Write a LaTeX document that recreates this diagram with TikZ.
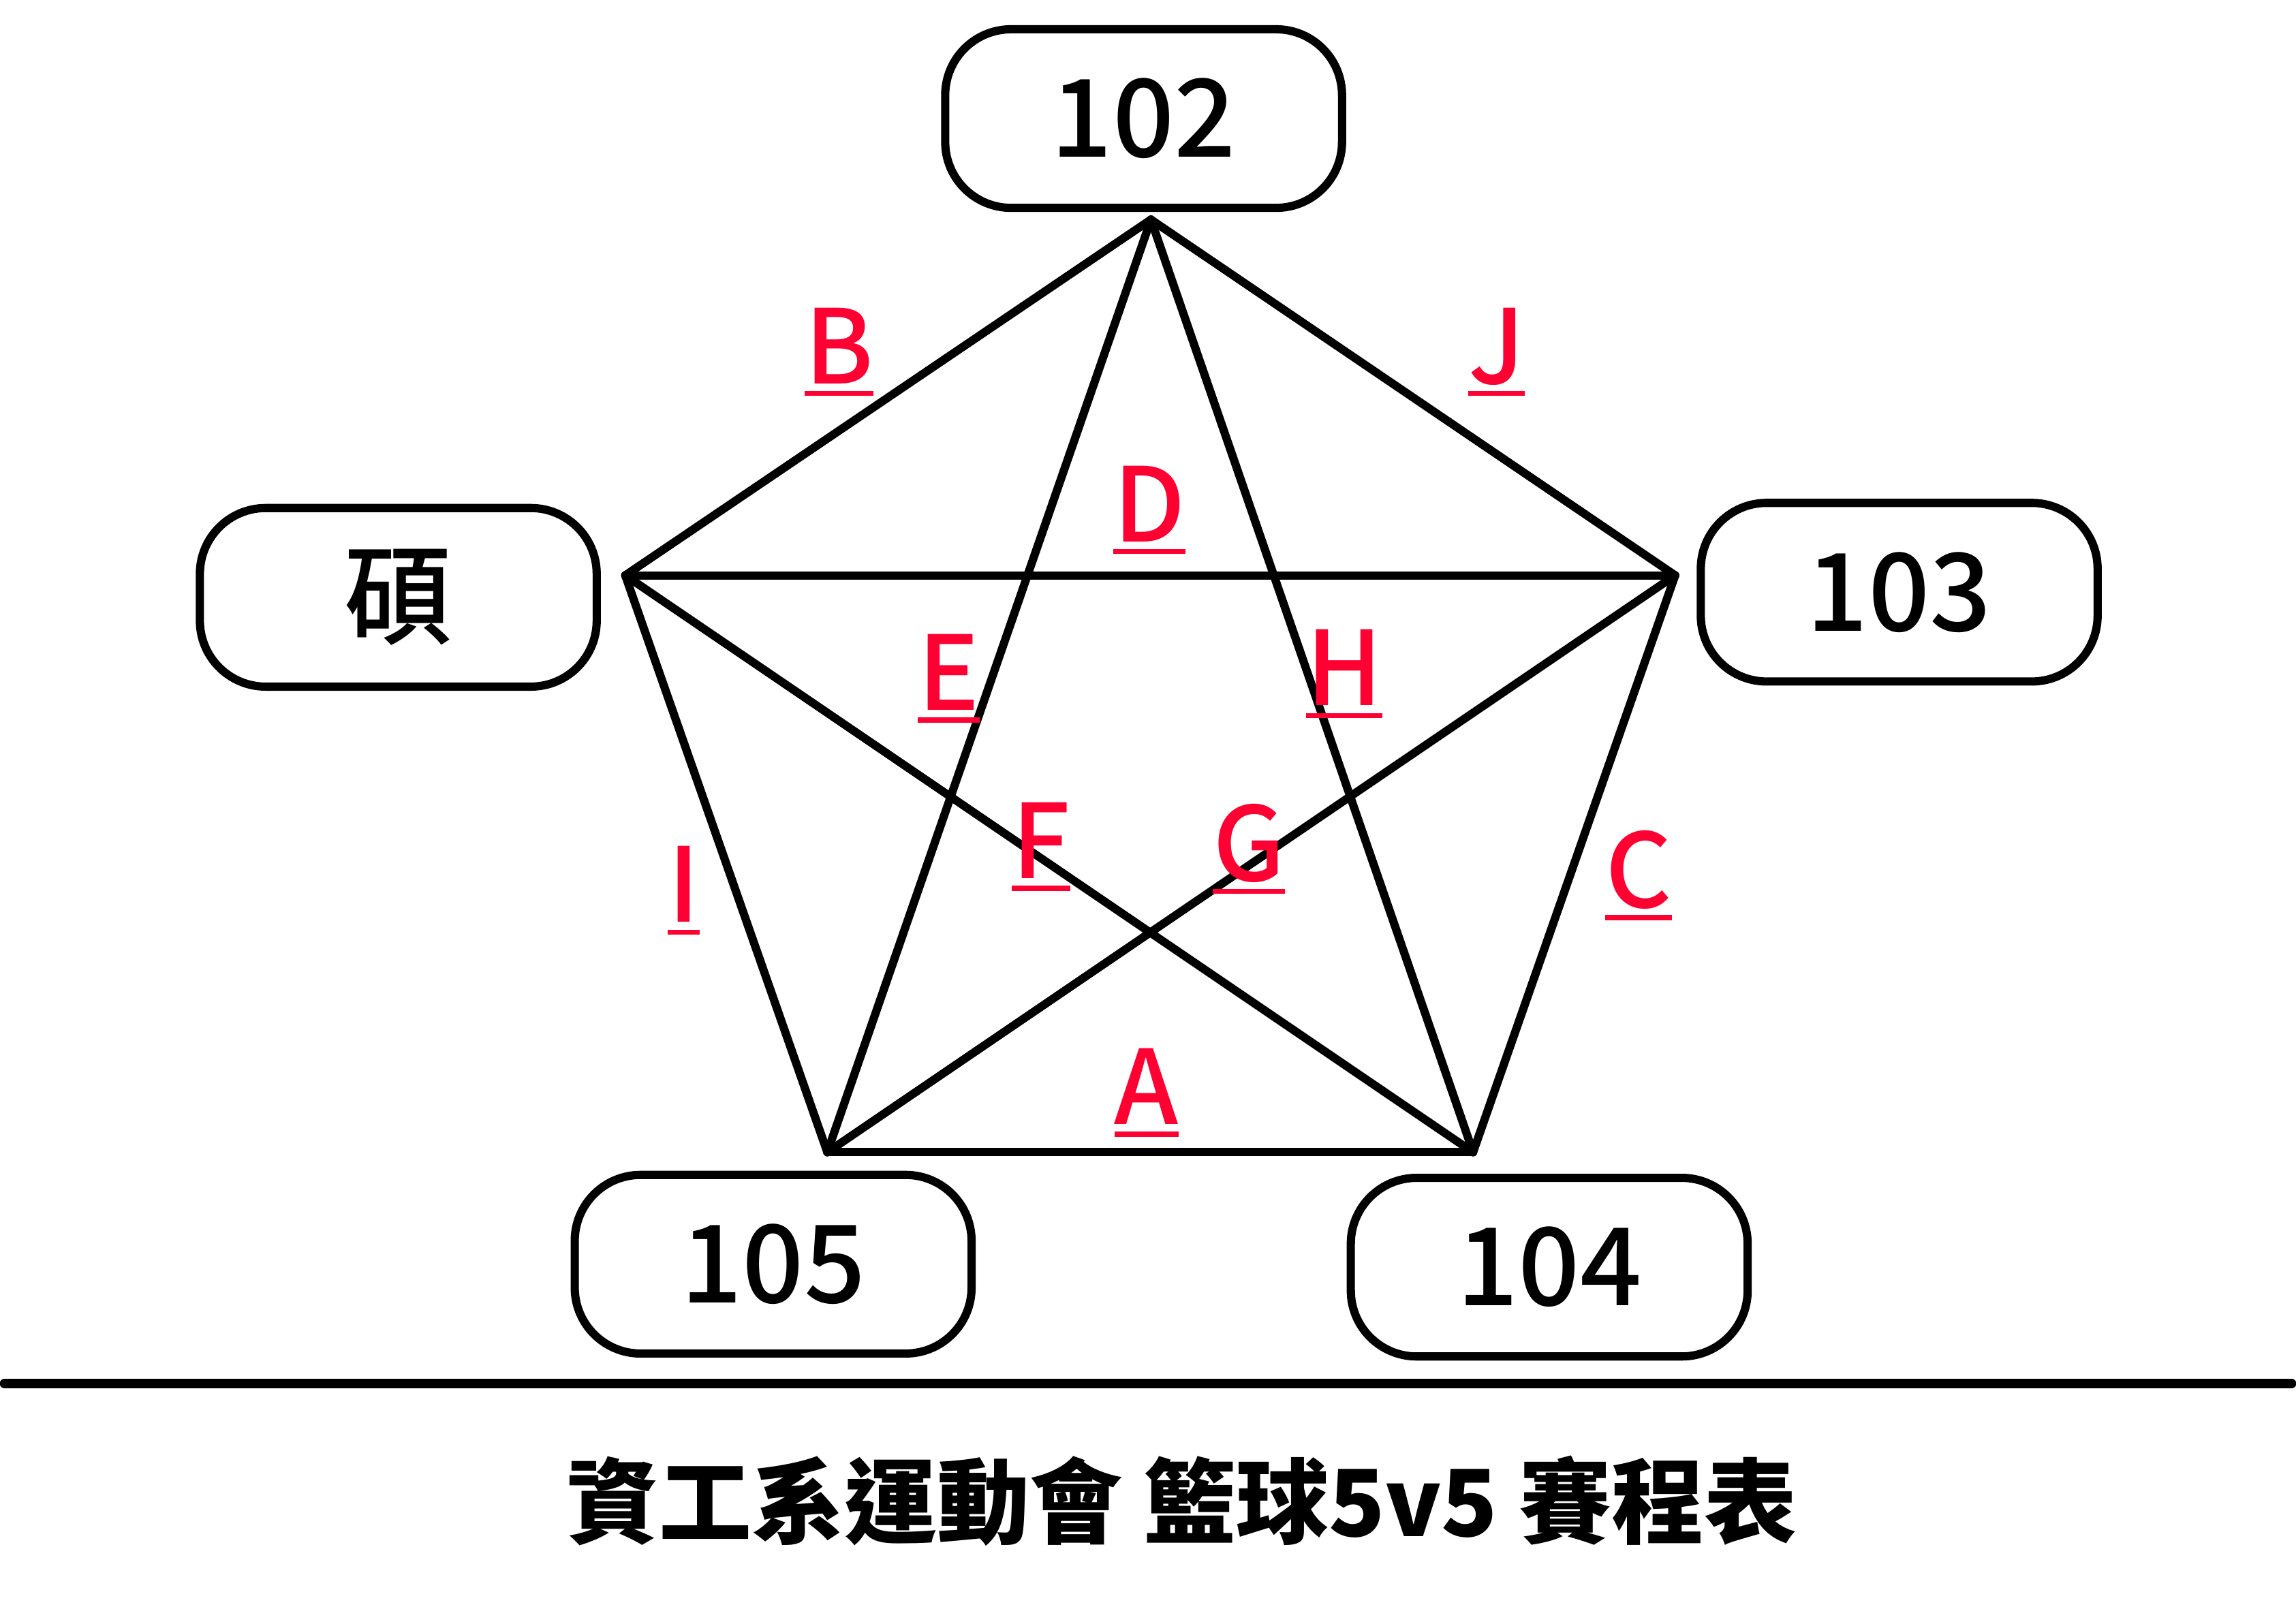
\documentclass[tikz,border=0pt]{standalone}
\usepackage{fontspec}
\setmainfont{Noto Sans CJK TC}
\newfontfamily\medfont{Noto Sans CJK TC Medium}
\usepackage{tikz}
\usetikzlibrary{positioning}
\definecolor{labred}{RGB}{255,0,51}
\newcommand{\ulbl}[1]{\setbox0\hbox{#1}\rlap{\rule[-0.085cm]{\wd0}{0.035cm}}\box0}

\begin{document}
\begin{tikzpicture}[
    room/.style={draw, rounded corners=4.5mm, line width=1.6pt, minimum width=2.71cm, minimum height=1.22cm, font=\medfont\fontsize{21}{24}\selectfont},
    game/.style={anchor=base, text=labred, inner sep=0pt, font=\medfont\fontsize{20}{24}\selectfont},
    el/.style={line width=1.6pt, line cap=round, line join=round}
  ]
    \useasboundingbox (0,0) rectangle (15.68,11.09);

    % rooms
    \node[room] (r102) at (7.81,10.28) {102};
    \node[room] (rms)  at (2.72,7.01)  {碩};
    \node[room] (r103) at (12.97,7.045) {103};
    \node[room] (r105) at (5.28,2.455) {105};
    \node[room] (r104) at (10.58,2.435) {104};

    % pentagon corners
    \coordinate (p102) at (7.86,9.59);
    \coordinate (pms)  at (4.27,7.16);
    \coordinate (p103) at (11.44,7.16);
    \coordinate (p105) at (5.65,3.22);
    \coordinate (p104) at (10.06,3.22);

    % games
    \draw[el] (p105) -- (p104);
    \draw[el] (pms) -- (p102);
    \draw[el] (p103) -- (p104);
    \draw[el] (pms) -- (p103);
    \draw[el] (p102) -- (p105);
    \draw[el] (pms) -- (p104);
    \draw[el] (p105) -- (p103);
    \draw[el] (p102) -- (p104);
    \draw[el] (pms) -- (p105);
    \draw[el] (p102) -- (p103);

    % game labels
    \node[game] (gA) at (7.83,3.41) {\ulbl{A}};
    \node[game] (gB) at (5.73,8.47) {\ulbl{B}};
    \node[game] (gC) at (11.19,4.89) {\ulbl{C}};
    \node[game] (gD) at (7.85,7.39) {\ulbl{D}};
    \node[game] (gE) at (6.48,6.24) {\ulbl{E}};
    \node[game] (gF) at (7.11,5.09) {\ulbl{F}};
    \node[game] (gG) at (8.53,5.07) {\ulbl{G}};
    \node[game] (gH) at (9.18,6.27) {\ulbl{H}};
    \node[game] (gI) at (4.67,4.79) {\ulbl{I}};
    \node[game] (gJ) at (10.22,8.47) {\ulbl{J}};

    % title
    \coordinate (hl) at (0.03,1.64);
    \coordinate (hr) at (15.65,1.64);
    \draw[el, line width=1.8pt] (hl) -- (hr);
    \node[font=\bfseries\fontsize{18}{22}\selectfont] (title) at (8.07,0.84) {資工系運動會 籃球5v5 賽程表};
\end{tikzpicture}
\end{document}
